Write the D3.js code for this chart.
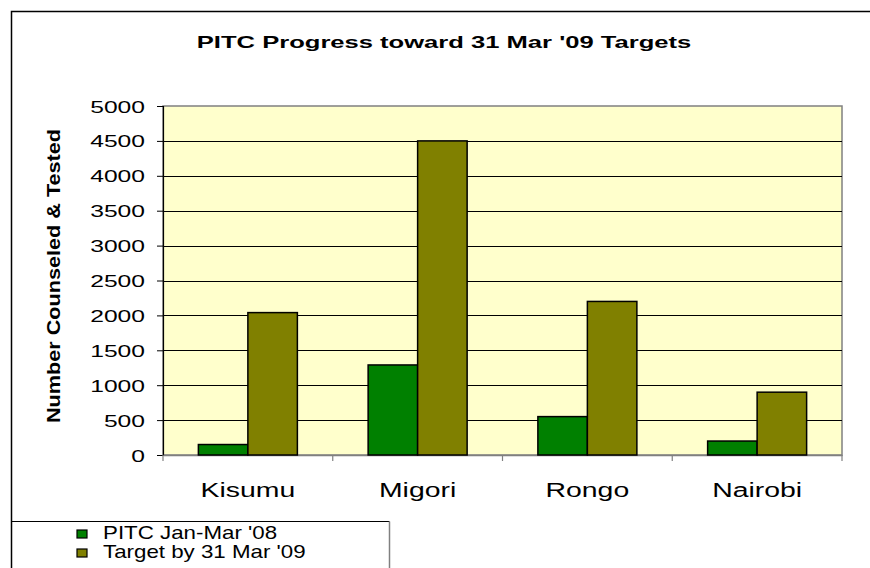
<!DOCTYPE html>
<html><head><meta charset="utf-8">
<script src="https://cdn.jsdelivr.net/npm/d3@7/dist/d3.min.js"></script>
<style>html,body{margin:0;padding:0;background:#fff;}svg{display:block;font-family:Arial,"Liberation Sans",sans-serif;}</style>
</head><body>
<svg id="c" width="870" height="568"></svg>
<script>
const categories = ["Kisumu", "Migori", "Rongo", "Nairobi"];
const seriesNames = ["PITC Jan-Mar '08", "Target by 31 Mar '09"];
const pitc2008 = [150, 1290, 550, 200];
const target2009 = [2040, 4500, 2200, 900];
const yTicks = [0, 500, 1000, 1500, 2000, 2500, 3000, 3500, 4000, 4500, 5000];
const colors = ["#008000", "#808000"];
const title = "PITC Progress toward 31 Mar '09 Targets";
const yTitle = "Number Counseled & Tested";

const svg = d3.select("#c");
const plot = {left: 163, right: 842, top: 106, bottom: 455};

// outer frame
svg.append("path").attr("d", "M11.5,568 V11.5 H870").attr("fill", "none").attr("stroke", "#000").attr("stroke-width", 1.5);

// title
svg.append("text").attr("x", 0).attr("y", 0)
  .attr("transform", "translate(444,48) scale(1.55,1)")
  .attr("text-anchor", "middle").attr("font-weight", "bold").attr("font-size", 16.5)
  .text(title);

const x0 = d3.scaleBand().domain(categories).range([plot.left, plot.right]).padding(0);
const bw = x0.bandwidth();
const groupW = 99;
const x1 = d3.scaleBand().domain([0, 1]).range([(bw - groupW) / 2, (bw + groupW) / 2]).padding(0);
const y = d3.scaleLinear().domain([0, 5000]).range([plot.bottom, plot.top]);

// plot background
svg.append("rect").attr("x", plot.left).attr("y", plot.top)
  .attr("width", plot.right - plot.left).attr("height", plot.bottom - plot.top)
  .attr("fill", "#FFFFCC").attr("stroke", "#808080").attr("stroke-width", 1.5);

// gridlines
svg.append("g").selectAll("line").data(yTicks.filter(d => d > 0 && d < 5000)).join("line")
  .attr("x1", plot.left).attr("x2", plot.right)
  .attr("y1", d => Math.round(y(d)) + 0.5).attr("y2", d => Math.round(y(d)) + 0.5)
  .attr("stroke", "#000").attr("stroke-width", 1);

// y axis
const yAxis = svg.append("g").attr("transform", `translate(${plot.left},0)`)
  .call(d3.axisLeft(y).tickValues(yTicks).tickSize(6).tickPadding(0).tickFormat(d3.format("d")));
yAxis.select(".domain").attr("stroke", "#000").attr("stroke-width", 1.2);
yAxis.selectAll(".tick line").attr("stroke", "#000");
yAxis.selectAll(".tick text")
  .attr("x", 0).attr("dy", null).attr("y", 0)
  .attr("font-size", 17).attr("fill", "#000").attr("font-family", "Arial, 'Liberation Sans', sans-serif")
  .attr("text-anchor", "end")
  .attr("transform", "translate(-18,6) scale(1.45,1)");

// x axis
const xAxis = svg.append("g").attr("transform", `translate(0,${plot.bottom})`)
  .call(d3.axisBottom(x0).tickSize(0).tickFormat(""));
xAxis.select(".domain").attr("stroke", "#808080").attr("stroke-width", 1.5);
const bounds = categories.map(c => x0(c)).concat([plot.right]);
svg.append("g").selectAll("line").data(bounds).join("line")
  .attr("x1", d => d).attr("x2", d => d).attr("y1", plot.bottom).attr("y2", plot.bottom + 6)
  .attr("stroke", "#808080").attr("stroke-width", 1.2);
svg.append("g").selectAll("text").data(categories).join("text")
  .attr("x", 0).attr("y", 0)
  .attr("transform", d => `translate(${x0(d) + bw / 2},497) scale(1.42,1)`)
  .attr("text-anchor", "middle").attr("font-size", 20).text(d => d);

// y title
svg.append("text").attr("x", 0).attr("y", 0)
  .attr("transform", "translate(60,276) rotate(-90)")
  .attr("text-anchor", "middle").attr("font-weight", "bold").attr("font-size", 19)
  .attr("textLength", 294).attr("lengthAdjust", "spacingAndGlyphs")
  .text(yTitle);

// bars
const seriesVals = [pitc2008, target2009];
const groups = svg.append("g").selectAll("g").data(categories).join("g")
  .attr("transform", d => `translate(${x0(d)},0)`);
groups.selectAll("rect").data((d, i) => seriesVals.map((s, k) => ({k, v: s[i]}))).join("rect")
  .attr("x", d => x1(d.k)).attr("width", x1.bandwidth())
  .attr("y", d => y(d.v)).attr("height", d => plot.bottom - y(d.v))
  .attr("fill", d => colors[d.k]).attr("stroke", "#000").attr("stroke-width", 1.5);

// legend
svg.append("path").attr("d", "M11.5,521.5 H389.5").attr("stroke", "#000").attr("stroke-width", 1.2);
svg.append("path").attr("d", "M389.5,521.5 V568").attr("stroke", "#808080").attr("stroke-width", 1.5);
const leg = svg.append("g").selectAll("g").data(seriesNames).join("g")
  .attr("transform", (d, i) => `translate(77,${539 + i * 19})`);
leg.append("rect").attr("x", 0).attr("y", -9).attr("width", 10).attr("height", 8)
  .attr("fill", (d, i) => colors[i]).attr("stroke", "#000").attr("stroke-width", 1.2);
leg.append("text").attr("x", 0).attr("y", 0)
  .attr("transform", "translate(26,0) scale(1.24,1)")
  .attr("font-size", 18).text(d => d);
</script>
</body></html>
